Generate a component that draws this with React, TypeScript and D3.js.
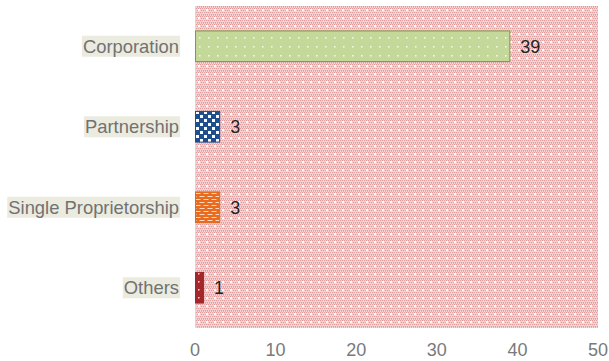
import React from "react";
import * as d3 from "d3";

const categories = ["Corporation", "Partnership", "Single Proprietorship", "Others"];
const values = [39, 3, 3, 1];
const xTicks = [0, 10, 20, 30, 40, 50];

const W = 609;
const H = 361;
const margin = { top: 6, right: 11, bottom: 33, left: 195 };

const fills = ["url(#pGreen)", "url(#pBlue)", "url(#pOrange)", "url(#pRed)"];
const strokes = ["#7f9a4a", "#1f4e8c", "#e4691f", "#a0282a"];

export default function App() {
  const iw = W - margin.left - margin.right;
  const ih = H - margin.top - margin.bottom;
  const x = d3.scaleLinear().domain([0, 50]).range([0, iw]);
  const y = d3.scaleBand().domain(categories).range([0, ih]).paddingInner(0.62).paddingOuter(0.31);

  return (
    <svg width={W} height={H} style={{ position: "absolute", left: 0, top: 0, fontFamily: "Liberation Sans, Arial, sans-serif" }}>
      <defs>
        <pattern id="pBg" width="8" height="8" patternUnits="userSpaceOnUse">
          <rect width="8" height="8" fill="#f6dada" />
          {d3.range(0, 8, 2).map((i) =>
            d3.range(0, 8, 2).map((j) => (
              <rect key={`${i}-${j}`} x={i + ((j / 2) % 2)} y={j} width="1.2" height="1.2" fill="#e39a9a" />
            ))
          )}
          {d3.range(0, 8, 2).map((i) => (
            <rect key={`l${i}`} x={i} y={1} width="1" height="1" fill="#eab0b0" />
          ))}
          <rect x="3" y="3" width="2" height="2" fill="#ffffff" />
        </pattern>
        <pattern id="pGreen" width="9" height="9" patternUnits="userSpaceOnUse">
          <rect width="9" height="9" fill="#c3d899" />
          <rect x="4" y="4" width="1.6" height="1.6" fill="#f2f7e6" />
        </pattern>
        <pattern id="pBlue" width="8" height="8" patternUnits="userSpaceOnUse">
          <rect width="8" height="8" fill="#1f4e8c" />
          <rect x="1" y="1" width="3" height="3" fill="#ffffff" />
          <rect x="5" y="5" width="3" height="3" fill="#ffffff" />
        </pattern>
        <pattern id="pOrange" width="8" height="6" patternUnits="userSpaceOnUse">
          <rect width="8" height="6" fill="#e86b1f" />
          <rect x="0.5" y="1" width="5" height="1" fill="#fbd9c2" />
          <rect x="4.5" y="4" width="5" height="1" fill="#fbd9c2" />
          <rect x="-3.5" y="4" width="5" height="1" fill="#fbd9c2" />
        </pattern>
        <pattern id="pRed" width="8" height="8" patternUnits="userSpaceOnUse">
          <rect width="8" height="8" fill="#a3282b" />
          <rect x="3" y="3" width="1.5" height="1.5" fill="#f3d6d6" />
        </pattern>
      </defs>
      <g transform={`translate(${margin.left},${margin.top})`}>
        <rect x={0} y={0} width={iw} height={ih} fill="url(#pBg)" />
        <line x1={0.5} x2={0.5} y1={0} y2={ih} stroke="#d9d9d9" strokeWidth={1} />
        {categories.map((c, i) => {
          const by = y(c)!;
          const bw = x(values[i]);
          return (
            <g key={c}>
              <rect x={0.5} y={by} width={bw} height={y.bandwidth()} fill={fills[i]} stroke={strokes[i]} strokeWidth={1} />
              <text x={bw + 11} y={by + y.bandwidth() / 2} dy="0.36em" fontSize={18} fill="#222222">
                {values[i]}
              </text>
            </g>
          );
        })}
        {categories.map((c) => {
          const cy = y(c)! + y.bandwidth() / 2;
          return (
            <g key={`lab-${c}`}>
              <CategoryLabel text={c} x={-16} y={cy} />
            </g>
          );
        })}
        {xTicks.map((t) => (
          <text key={t} x={x(t)} y={ih + 28} textAnchor="middle" fontSize={18} fill="#7a7a7a">
            {t}
          </text>
        ))}
      </g>
    </svg>
  );
}

function CategoryLabel({ text, x, y }: { text: string; x: number; y: number }) {
  const ref = React.useRef<SVGTextElement>(null);
  const [box, setBox] = React.useState<{ w: number } | null>(null);
  React.useEffect(() => {
    if (ref.current) setBox({ w: ref.current.getBBox().width });
  }, [text]);
  return (
    <g>
      {box && <rect x={x - box.w - 1} y={y - 10.5} width={box.w + 2} height={21} fill="#ebebe0" />}
      <text ref={ref} x={x} y={y} dy="0.36em" textAnchor="end" fontSize={18.4} fill="#727272">
        {text}
      </text>
    </g>
  );
}
